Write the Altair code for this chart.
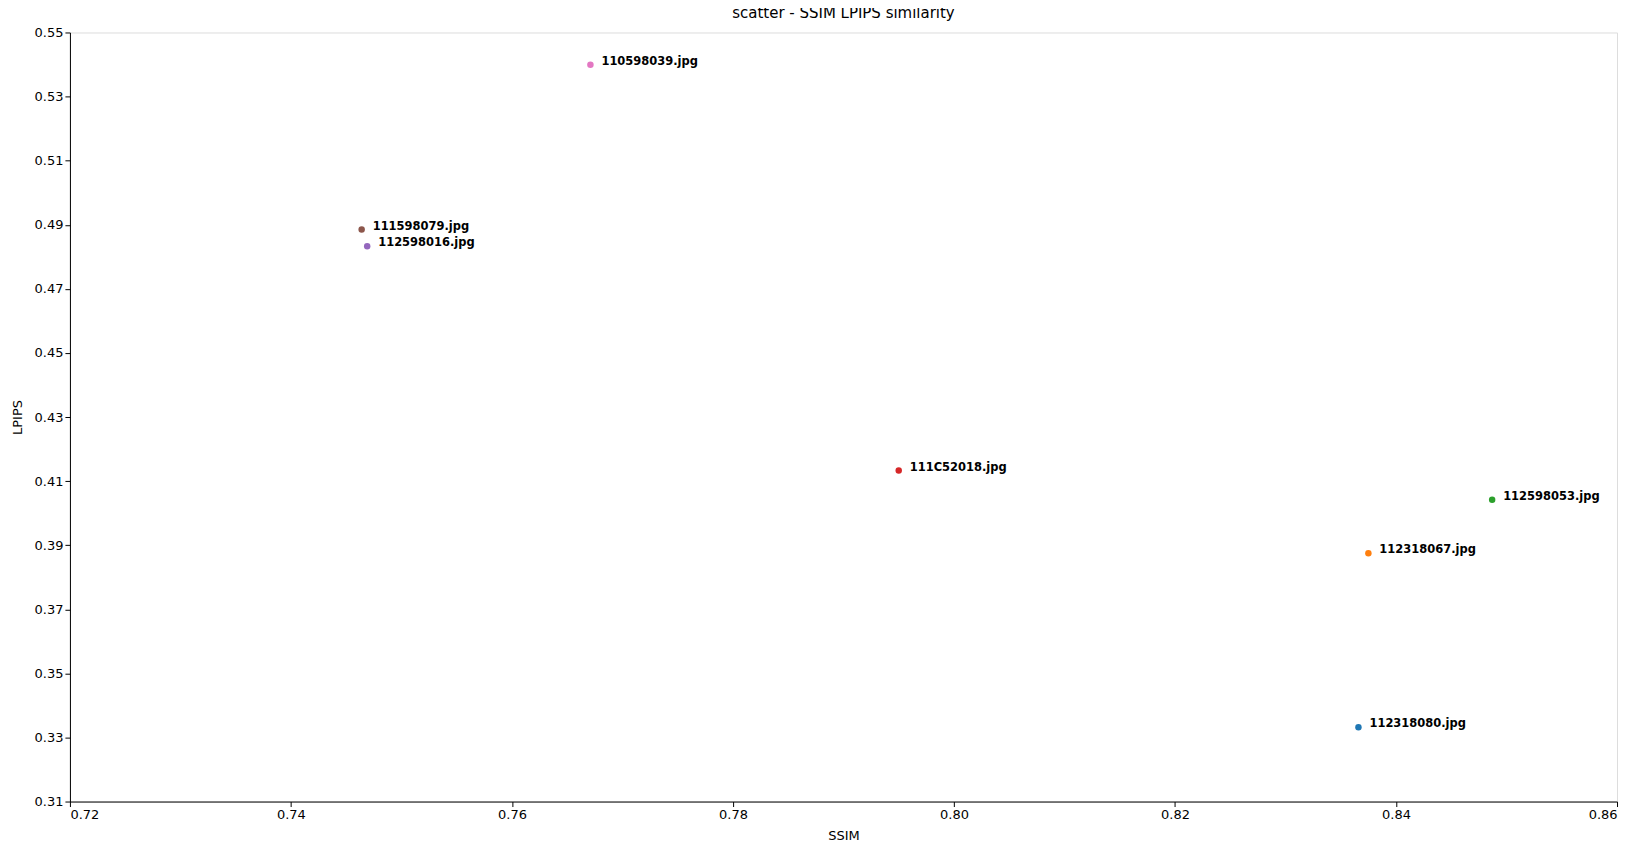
import pandas as pd
import altair as alt

NAMES = ["112318080.jpg", "112318067.jpg", "112598053.jpg", "111C52018.jpg",
         "112598016.jpg", "111598079.jpg", "110598039.jpg"]
SSIM = [0.8366, 0.8375, 0.8487, 0.7950, 0.7469, 0.7464, 0.7671]
LPIPS = [0.3332, 0.3875, 0.4042, 0.4133, 0.4833, 0.4885, 0.5399]
COLORS = ["#1f77b4", "#ff7f0e", "#2ca02c", "#d62728", "#9467bd", "#8c564b", "#e377c2"]

df = pd.DataFrame({"name": NAMES, "ssim": SSIM, "lpips": LPIPS})

x = alt.X("ssim:Q").scale(domain=[0.72, 0.86], nice=False, zero=False).axis(
    values=[0.72 + 0.02 * i for i in range(8)], format=".2f", grid=False,
    domainColor="black", tickColor="black", labelColor="black", labelFontSize=13,
    titleFontSize=13, titleFontWeight="normal", titlePadding=8).title("SSIM")
y = alt.Y("lpips:Q").scale(domain=[0.31, 0.55], nice=False, zero=False).axis(
    values=[0.31 + 0.02 * i for i in range(13)], format=".2f", grid=False,
    domainColor="black", tickColor="black", labelColor="black", labelFontSize=13,
    titleFontSize=13, titleFontWeight="normal", titlePadding=10).title("LPIPS")

base = alt.Chart(df)
points = base.mark_circle(size=42, opacity=1).encode(
    x=x, y=y,
    color=alt.Color("name:N").scale(domain=NAMES, range=COLORS).legend(None),
)
labels = base.mark_text(align="left", dx=11, dy=-3, fontWeight="bold",
                        fontSize=11.5, color="black").encode(x=x, y=y, text="name:N")

chart = (points + labels).properties(
    width=1549, height=770,
    title=alt.Title("scatter - SSIM LPIPS similarity", fontSize=15,
                    fontWeight="normal", offset=5),
    autosize=alt.AutoSizeParams(type="none"),
    padding={"left": 62, "top": 24, "right": 20, "bottom": 40},
).configure_view(stroke="black", strokeWidth=1).configure(
    font="DejaVu Sans")

chart.save("out.html", embed_options={"renderer": "svg", "actions": False})
